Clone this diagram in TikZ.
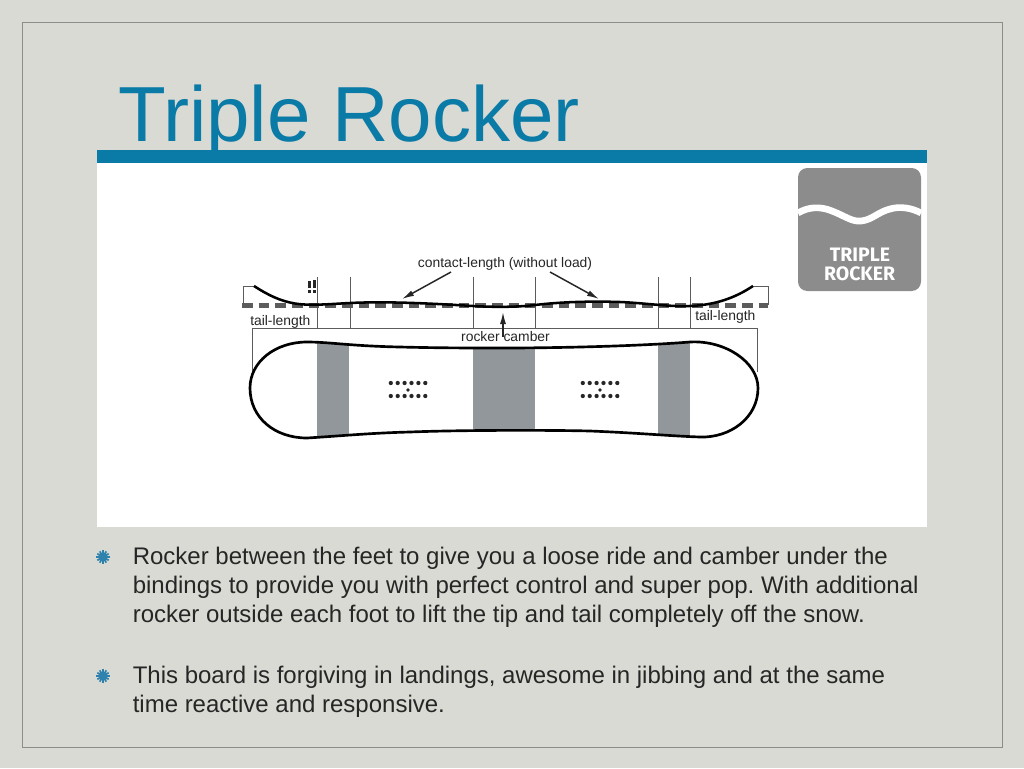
\documentclass[tikz,border=0pt]{standalone}
\usepackage{fontspec}
\setmainfont{Liberation Sans}
\newfontfamily\logofont{Fira Sans}
\usetikzlibrary{arrows.meta}
\definecolor{bg}{HTML}{D9DAD3}
\definecolor{frameC}{HTML}{8C8D8B}
\definecolor{teal}{HTML}{0A7AA6}
\definecolor{band}{HTML}{92979C}
\definecolor{logoC}{HTML}{8C8C8C}
\definecolor{ink}{HTML}{262626}
\definecolor{dashC}{HTML}{5C5C5C}
\definecolor{burstC}{HTML}{2F82AE}
\tikzset{
  x=0.75pt,y=-0.75pt,
  thin line/.style={draw=dashC,line width=0.75pt},
  board/.style={draw=black,line width=2pt},
  small label/.style={font=\fontsize{10.4pt}{12pt}\selectfont,text=ink,inner sep=0pt},
  body text/.style={font=\fontsize{18pt}{21.75pt}\selectfont\frenchspacing,text=ink,inner sep=0pt,align=left,anchor=base west},
  pointer/.style={draw=ink,line width=1.1pt,-{Latex[length=9pt,width=4.5pt]}},
  logo text/.style={font=\logofont\fontsize{14.6pt}{14.6pt}\selectfont\bfseries,text=white,inner sep=0pt}
}
\newcommand{\burst}[2]{%
  \foreach \a in {0,30,...,150}
    \draw[burstC,line width=1.3pt] (#1,#2) ++(\a:4.9pt) -- ++(\a+180:9.8pt);
  \fill[burstC] (#1,#2) circle[radius=3.4pt];}
\newcommand{\holes}[1]{%
  \foreach \i in {0,...,5}{
    \fill[ink] (#1-17.2+6.9*\i,383) circle[radius=1.6pt];
    \fill[ink] (#1-17.2+6.9*\i,396) circle[radius=1.6pt];}
  \fill[ink] (#1,390) circle[radius=1.4pt];}
\begin{document}
\begin{tikzpicture}
\useasboundingbox (0,0) rectangle (1024,768);
\fill[bg] (0,0) rectangle (1024,768);
\draw[frameC,line width=1.3pt] (22.5,22.5) rectangle (1002.5,747.5);
\fill[white] (97,163) rectangle (927,527);
\fill[teal] (97,150) rectangle (927,163);
\node[anchor=base west,inner sep=0pt,text=teal,font=\fontsize{58.6pt}{60pt}\selectfont] (title) at (118,141) {Triple Rocker};
% logo
\fill[logoC,rounded corners=7pt] (798,168) rectangle (921,291);
\draw[white,line width=5pt] (798,213) .. controls (808,207) and (820,206) .. (832,211) .. controls (845,216) and (852,222) .. (861,221) .. controls (872,220) and (878,212) .. (890,209) .. controls (900,206) and (912,208) .. (921,213);
\node[logo text] (logoa) at (860,255) {TRIPLE};
\node[logo text] (logob) at (859.5,274) {ROCKER};
% board
\begin{scope}
\clip (250,388) .. controls (250,362) and (275,342) .. (307,342) .. controls (330,342) and (350,346) .. (400,347) .. controls (440,348) and (470,348) .. (503,348) .. controls (560,348) and (640,346) .. (690,342) .. controls (725,340) and (758,362) .. (758,388) .. controls (758,418) and (730,438) .. (700,437) .. controls (670,436) and (640,433) .. (590,431) .. controls (550,430) and (460,430) .. (410,432) .. controls (370,433) and (340,436) .. (307,438) .. controls (275,438) and (250,418) .. (250,388) -- cycle;
\fill[band] (317,330) rectangle (349,445);
\fill[band] (473,330) rectangle (535,445);
\fill[band] (658,330) rectangle (690,445);
\end{scope}
\draw[thin line] (252,375) -- (252,328) -- (757,328) -- (757,372);
\foreach \x in {317,350,473,535,658,690} \draw[thin line] (\x,277) -- (\x,328);
\draw[board] (250,388) .. controls (250,362) and (275,342) .. (307,342) .. controls (330,342) and (350,346) .. (400,347) .. controls (440,348) and (470,348) .. (503,348) .. controls (560,348) and (640,346) .. (690,342) .. controls (725,340) and (758,362) .. (758,388) .. controls (758,418) and (730,438) .. (700,437) .. controls (670,436) and (640,433) .. (590,431) .. controls (550,430) and (460,430) .. (410,432) .. controls (370,433) and (340,436) .. (307,438) .. controls (275,438) and (250,418) .. (250,388) -- cycle;
\holes{408}
\holes{600}
% profile
\draw[thin line] (254,286) -- (243,286) -- (243,305);
\draw[thin line] (753,286) -- (768,286) -- (768,305);
\draw[dashC,line width=3.6pt,dash pattern=on 8pt off 4.5pt] (242,305.5) -- (768,305.5);
\draw[black,line width=1.9pt] (254,286) .. controls (268,295) and (280,301) .. (295,303.5) .. controls (310,306) and (330,304) .. (350,303) .. controls (390,301) and (440,304) .. (473,306) .. controls (490,307) and (515,307.5) .. (535,305) .. controls (560,302) and (590,301) .. (620,302) .. controls (645,303) and (670,307) .. (690,306) .. controls (715,305) and (735,298) .. (753,286);
% tiny marks
\fill[ink] (308,281) rectangle (311,288);
\fill[ink] (308,290) rectangle (311,293);
\fill[ink] (313,280) rectangle (316,288);
\fill[ink] (313,290) rectangle (316,293);
% labels
\node[small label,anchor=base] (contact) at (505,267) {contact-length (without load)};
\node[small label,anchor=base west] (tailL) at (250,325) {tail-length};
\node[small label,anchor=base west] (tailR) at (695,320) {tail-length};
\node[small label,anchor=base] (rc) at (505.5,341) {rocker camber};
\coordinate (pa1) at (451,272); \coordinate (pa2) at (402,299);
\coordinate (pb1) at (550,272); \coordinate (pb2) at (599,299);
\coordinate (pc1) at (503,337); \coordinate (pc2) at (503,312);
\draw[pointer] (pa1) -- (pa2);
\draw[pointer] (pb1) -- (pb2);
\draw[pointer] (pc1) -- (pc2);
% bullets
\burst{103}{557}
\burst{103}{676}
\node[body text] (p1) at (132.5,622) {Rocker between the feet to give you a loose ride and camber under the\\bindings to provide you with perfect control and super pop. With additional\\rocker outside each foot to lift the tip and tail completely off the snow.};
\node[body text] (p2) at (132.5,712) {This board is forgiving in landings, awesome in jibbing and at the same\\time reactive and responsive.};
\end{tikzpicture}
\end{document}
